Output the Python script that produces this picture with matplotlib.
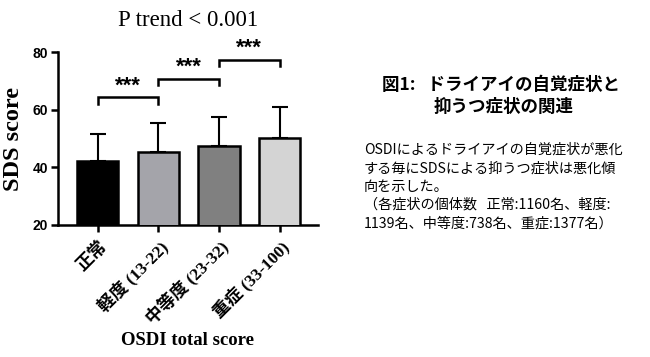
import matplotlib
matplotlib.use("Agg")
import matplotlib.pyplot as plt

categories = ["正常", "軽度 (13-22)", "中等度 (23-32)", "重症 (33-100)"]
means = [42.1, 45.2, 47.4, 50.3]
sds = [9.6, 10.1, 10.0, 10.7]
bar_colors = ["#000000", "#a4a4aa", "#808080", "#d4d4d4"]
yticks = [20, 40, 60, 80]
brackets = [(0, 1, 64.3, 62.1), (1, 2, 70.7, 68.5), (2, 3, 77.3, 75.1)]
sig_label = "***"
title = "P trend < 0.001"
ylabel = "SDS score"
xlabel = "OSDI total score"
heading_lines = ["図1:   ドライアイの自覚症状と", "抑うつ症状の関連"]
body_lines = [
    "OSDIによるドライアイの自覚症状が悪化",
    "する毎にSDSによる抑うつ症状は悪化傾",
    "向を示した。",
    "（各症状の個体数   正常:1160名、軽度:",
    "1139名、中等度:738名、重症:1377名）",
]

serif = ["Liberation Serif", "Noto Sans CJK JP"]
gothic = ["Noto Sans CJK JP", "DejaVu Sans"]

fig = plt.figure(figsize=(6.5, 3.57), dpi=100)
ax = fig.add_axes([0.089, 0.370, 0.400, 0.484])

x = list(range(len(categories)))
ax.bar(x, means, width=0.68, color=bar_colors, edgecolor="black", linewidth=1.8, zorder=3)
ax.errorbar(x, means, yerr=[[0] * len(sds), sds], fmt="none", ecolor="black",
            elinewidth=1.5, capsize=6, capthick=1.5, zorder=2)

for i, j, top, end in brackets:
    ax.plot([i, i, j, j], [end, top, top, end], color="black", lw=1.8,
            solid_joinstyle="miter", clip_on=False)
    ax.text((i + j) / 2, top + 0.3, sig_label, ha="center", va="bottom",
            fontsize=16, fontweight="bold", family="Liberation Sans")

ax.set_xlim(-0.66, 3.63)
ax.set_ylim(20, 80)
ax.set_yticks(yticks)
ax.set_xticks(x)
ax.set_xticklabels(categories, rotation=45, ha="right", rotation_mode="anchor",
                   family=serif, fontsize=12.5, fontweight="bold")
for lab in ax.get_yticklabels():
    lab.set_family("Liberation Sans")
    lab.set_fontweight("bold")
    lab.set_fontsize(10)
ax.tick_params(axis="both", width=1.8, length=5, direction="out", pad=2)
ax.tick_params(axis="x", pad=4)
for s in ["top", "right"]:
    ax.spines[s].set_visible(False)
for s in ["left", "bottom"]:
    ax.spines[s].set_linewidth(1.8)

ax.set_ylabel(ylabel, family="Liberation Serif", fontweight="bold", fontsize=17.5, labelpad=6)
fig.text(0.289, 0.942, title, ha="center", va="center", family="Liberation Serif", fontsize=16.5)
fig.text(0.289, 0.045, xlabel, ha="center", va="center", family="Liberation Serif",
         fontweight="bold", fontsize=13.5)

fig.text(0.771, 0.762, heading_lines[0], ha="center", va="center", family=gothic,
         fontweight="bold", fontsize=12.6)
fig.text(0.775, 0.700, heading_lines[1], ha="center", va="center", family=gothic,
         fontweight="bold", fontsize=12.6)
y0 = 0.580
for k, line in enumerate(body_lines):
    fig.text(0.560, y0 - k * 0.0513, line, ha="left", va="center", family=gothic, fontsize=10.2)

fig.savefig("out.png", dpi=100, facecolor="white")
